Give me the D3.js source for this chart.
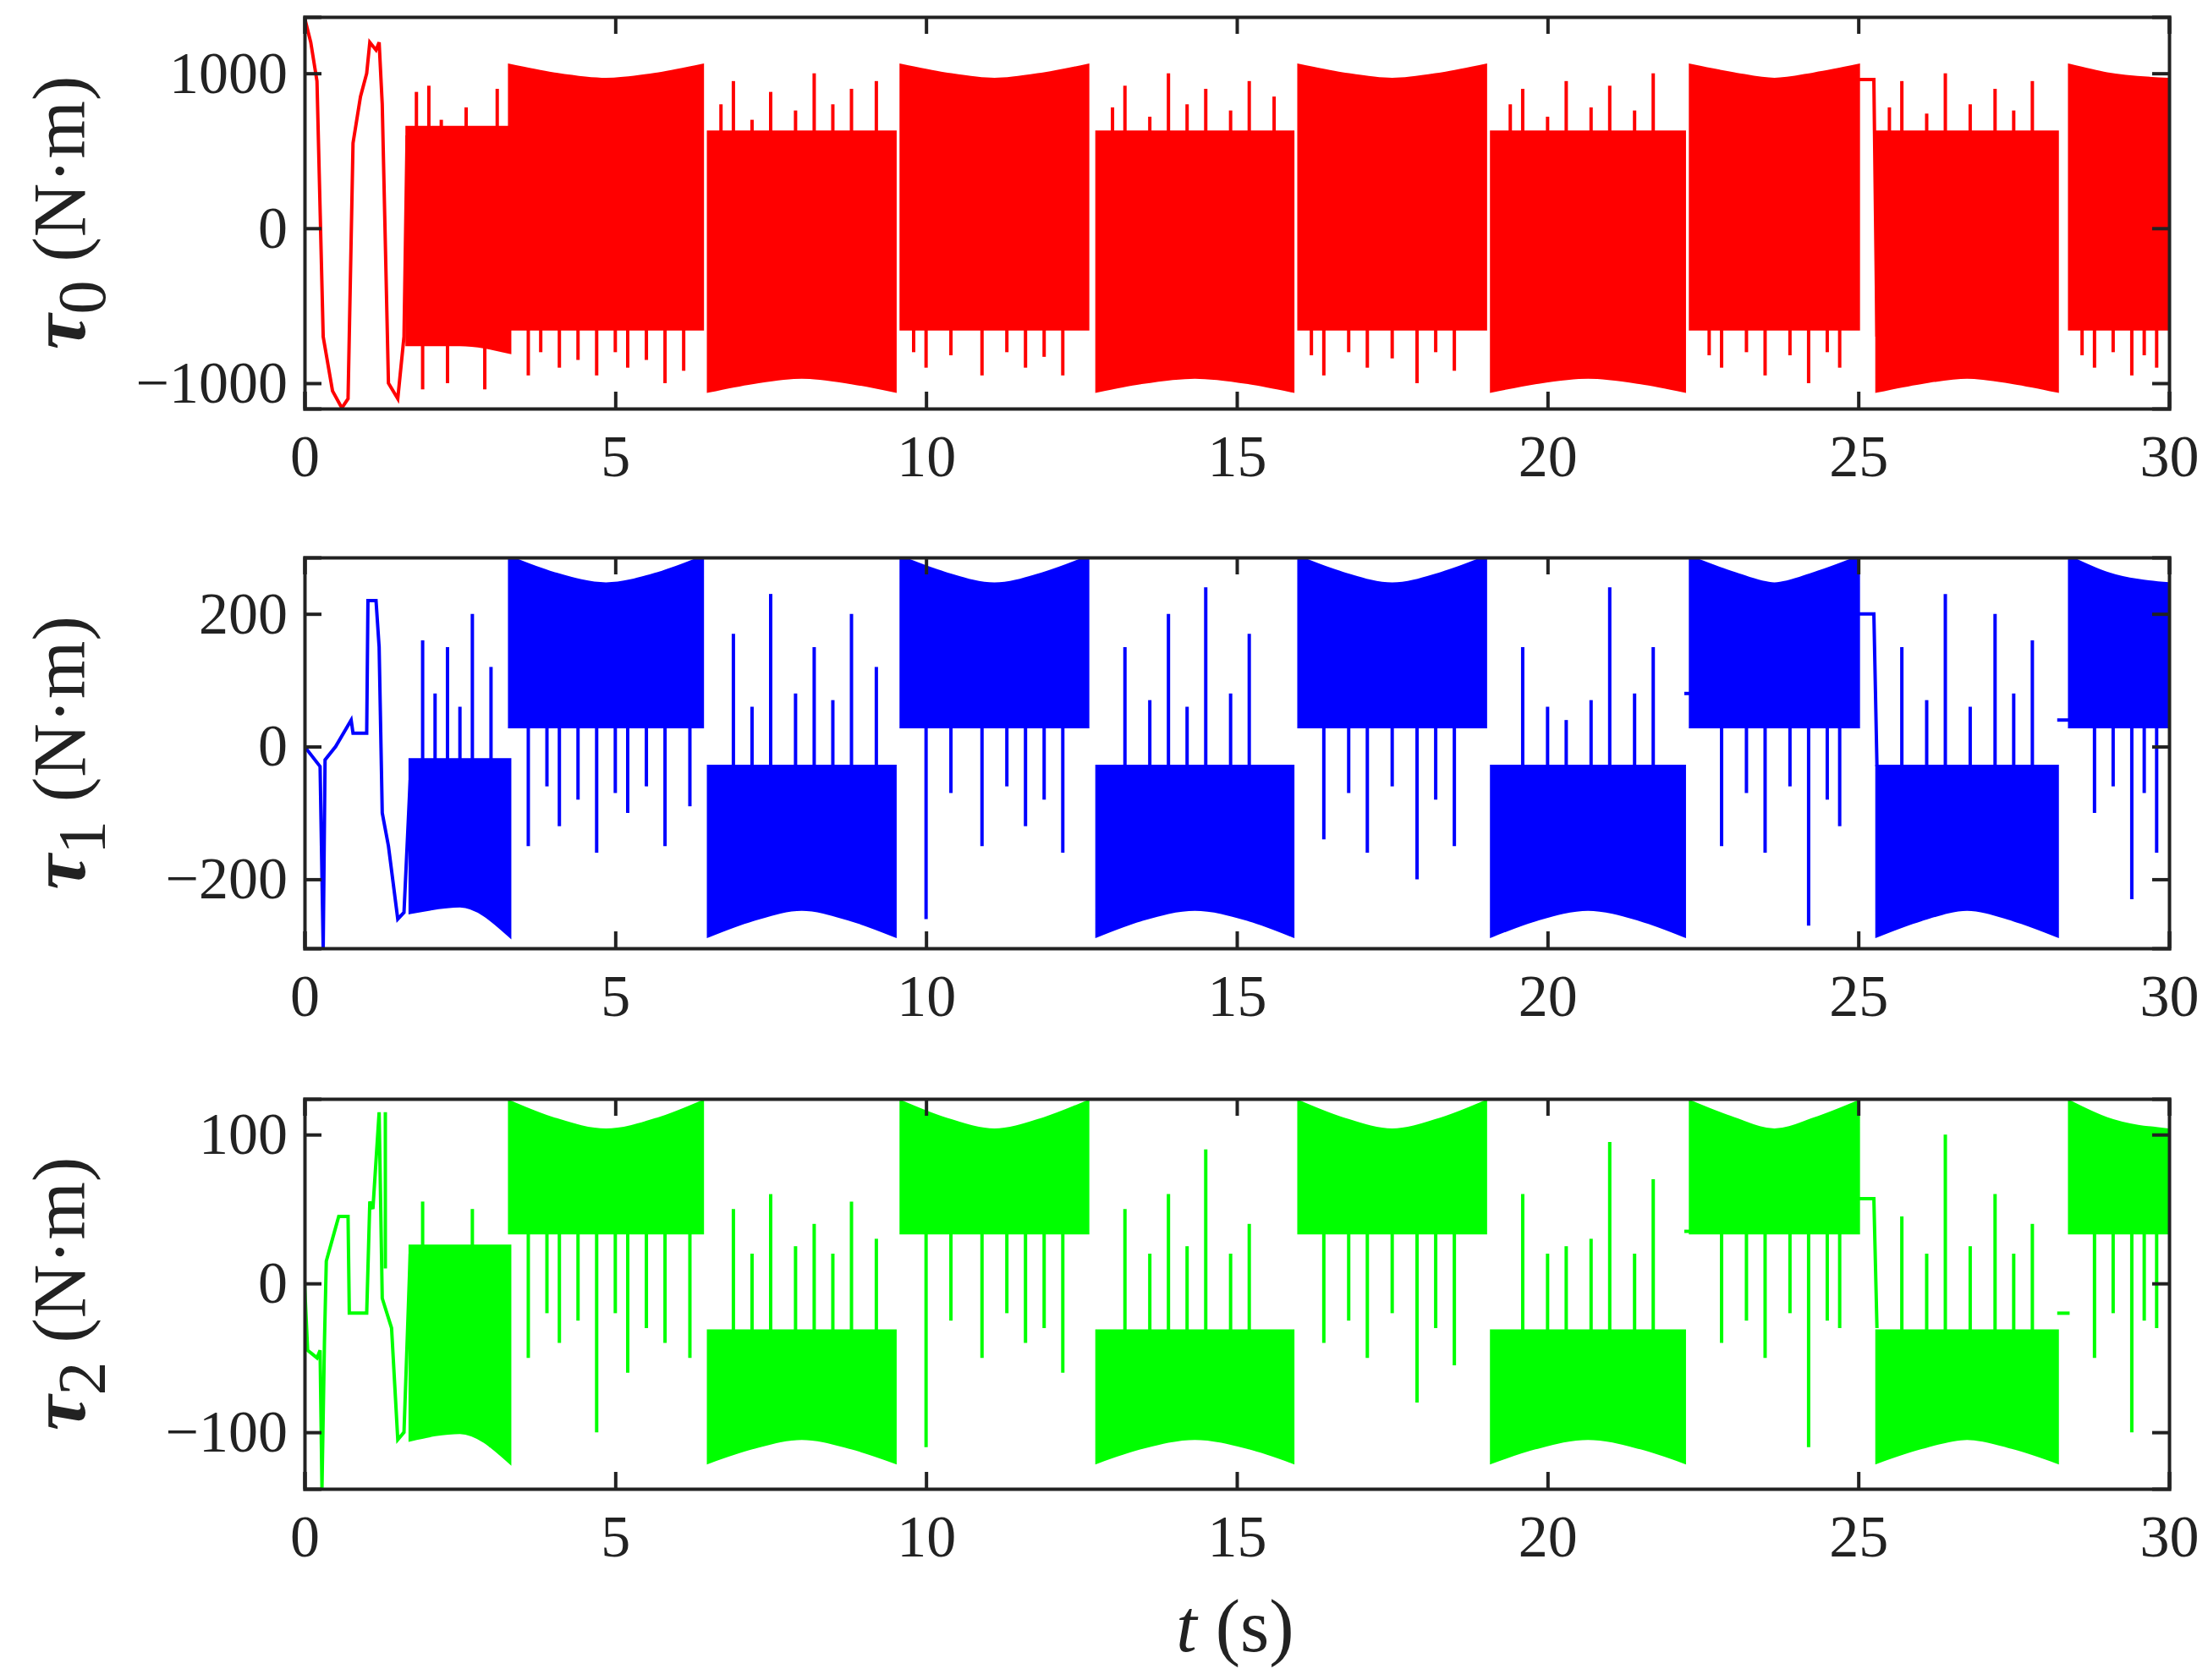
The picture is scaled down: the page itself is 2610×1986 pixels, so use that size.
<!DOCTYPE html>
<html><head><meta charset="utf-8">
<script src="https://cdn.jsdelivr.net/npm/d3@7"></script>
<style>body{margin:0;background:#fff}text{font-family:"Liberation Serif","DejaVu Serif",serif}</style>
</head><body><svg id="c" width="2610" height="1986"></svg>
<script>
// ---- data ----
const xTicks = [0,5,10,15,20,25,30];
const yTicks0 = [-1000,0,1000], yTicks1 = [-200,0,200], yTicks2 = [-100,0,100];
const upStarts = [3.3, 9.6, 16.0, 22.3, 28.4];
const upEnds   = [6.4, 12.6, 19.0, 25.0, 30.0];
const loStarts = [6.5, 12.75, 19.1, 25.3];
const loEnds   = [9.5, 15.9, 22.2, 28.2];
// transient lines [t, value]
const line0 = [[0,1360],[0.1,1200],[0.2,950],[0.3,-700],[0.45,-1050],[0.6,-1160],[0.7,-1100],[0.78,550],[0.9,850],[1.0,1000],[1.05,1200],[1.15,1150],[1.2,1200],[1.25,800],[1.35,-1000],[1.5,-1100],[1.6,-700],[1.65,600]];
const line1 = [[0,0],[0.25,-30],[0.3,-304],[0.33,-20],[0.5,0],[0.75,40],[0.78,20],[1.0,20],[1.02,220],[1.15,220],[1.2,150],[1.25,-100],[1.35,-150],[1.5,-260],[1.6,-250],[1.7,-50]];
const line2 = [[0,0],[0.05,-45],[0.2,-50],[0.25,-45],[0.28,-138],[0.32,-40],[0.35,15],[0.45,30],[0.55,45],[0.7,45],[0.72,-20],[1.0,-20],[1.05,55],[1.1,50],[1.2,115],[1.25,-10],[1.4,-30],[1.5,-105],[1.6,-100],[1.7,20]];
const flat0 = [[24.95,960],[25.25,960],[25.3,-700]];
const flat1 = [[22.2,80],[22.3,80]], flat1b = [[24.95,200],[25.25,200],[25.3,-30]], flat1c=[[28.2,40],[28.4,40]];
const flat2 = [[22.2,35],[22.3,35]], flat2b = [[24.95,57],[25.25,57],[25.3,-30]], flat2c=[[28.2,-20],[28.4,-20]];
const env0 = {upHi:[1050,960], upLo:-650, loLo:[-1050,-960], loHi:620, early:[[1.65,-750,650],[2.5,-750,650],[3.3,-800,650]]};
const env1 = {upHi:[285,245], upLo:30, loLo:[-285,-245], loHi:-30, early:[[1.7,-250,-20],[2.5,-240,-20],[3.3,-285,-20]]};
const env2 = {upHi:[122,103], upLo:34, loLo:[-120,-104], loHi:-32, early:[[1.7,-105,25],[2.5,-100,25],[3.3,-120,25]]};
// spikes [t, from, to]
const spikes0 = [[1.9,-750,-1040],[2.3,-750,-1000],[2.9,-750,-1040],[3.1,650,900],[2.0,650,920],[2.6,650,780],[2.2,650,700],[1.8,650,880],
 [3.6,-650,-950],[3.8,-650,-800],[4.1,-650,-900],[4.4,-650,-850],[4.7,-650,-950],[5.0,-650,-800],[5.2,-650,-900],[5.5,-650,-850],[5.8,-650,-1000],[6.1,-650,-920],
 [6.7,620,800],[6.9,620,950],[7.2,620,700],[7.5,620,880],[7.9,620,760],[8.2,620,1000],[8.5,620,800],[8.8,620,900],[9.2,620,950],
 [9.8,-650,-800],[10.0,-650,-900],[10.4,-650,-820],[10.9,-650,-950],[11.3,-650,-800],[11.6,-650,-900],[11.9,-650,-830],[12.2,-650,-950],
 [13.0,620,780],[13.2,620,920],[13.6,620,720],[13.9,620,1000],[14.2,620,800],[14.5,620,900],[14.9,620,760],[15.2,620,950],[15.6,620,850],
 [16.2,-650,-820],[16.4,-650,-950],[16.8,-650,-800],[17.1,-650,-900],[17.5,-650,-840],[17.9,-650,-1000],[18.2,-650,-800],[18.5,-650,-920],
 [19.4,620,800],[19.6,620,900],[20.0,620,720],[20.3,620,950],[20.7,620,780],[21.0,620,920],[21.4,620,760],[21.7,620,1000],
 [22.6,-650,-820],[22.8,-650,-900],[23.2,-650,-800],[23.5,-650,-950],[23.9,-650,-820],[24.2,-650,-1000],[24.5,-650,-800],[24.7,-650,-900],
 [25.5,620,780],[25.7,620,950],[26.1,620,740],[26.4,620,1000],[26.8,620,800],[27.2,620,900],[27.5,620,760],[27.8,620,950],
 [28.6,-650,-820],[28.8,-650,-900],[29.1,-650,-800],[29.4,-650,-950],[29.6,-650,-820],[29.8,-650,-900]];
const spikes1 = [[1.9,-20,160],[2.1,-20,80],[2.3,-20,150],[2.5,-20,60],[2.7,-20,200],[3.0,-20,120],
 [3.6,30,-150],[3.9,30,-60],[4.1,30,-120],[4.4,30,-80],[4.7,30,-160],[5.0,30,-70],[5.2,30,-100],[5.5,30,-60],[5.8,30,-150],[6.2,30,-90],
 [6.9,-30,170],[7.2,-30,60],[7.5,-30,230],[7.9,-30,80],[8.2,-30,150],[8.5,-30,70],[8.8,-30,200],[9.2,-30,120],
 [10.0,30,-260],[10.4,30,-70],[10.9,30,-150],[11.3,30,-60],[11.6,30,-120],[11.9,30,-80],[12.2,30,-160],
 [13.2,-30,150],[13.6,-30,70],[13.9,-30,200],[14.2,-30,60],[14.5,-30,240],[14.9,-30,80],[15.2,-30,170],
 [16.4,30,-140],[16.8,30,-70],[17.1,30,-160],[17.5,30,-60],[17.9,30,-200],[18.2,30,-80],[18.5,30,-150],
 [19.6,-30,150],[20.0,-30,60],[20.3,-30,40],[20.7,-30,70],[21.0,-30,240],[21.4,-30,80],[21.7,-30,150],
 [22.8,30,-150],[23.2,30,-70],[23.5,30,-160],[23.9,30,-60],[24.2,30,-270],[24.5,30,-80],[24.7,30,-120],
 [25.7,-30,150],[26.1,-30,70],[26.4,-30,230],[26.8,-30,60],[27.2,-30,200],[27.5,-30,80],[27.8,-30,160],
 [28.8,30,-100],[29.1,30,-60],[29.4,30,-230],[29.6,30,-70],[29.8,30,-160]];
const spikes2 = [[1.9,25,55],[2.3,-30,-100],[2.7,25,50],[3.0,-30,-110],[1.3,10,115],
 [3.6,34,-50],[3.9,34,-20],[4.1,34,-40],[4.4,34,-25],[4.7,34,-100],[5.0,34,-20],[5.2,34,-60],[5.5,34,-30],[5.8,34,-40],[6.2,34,-50],
 [6.9,-32,50],[7.2,-32,20],[7.5,-32,60],[7.9,-32,25],[8.2,-32,40],[8.5,-32,20],[8.8,-32,55],[9.2,-32,30],
 [10.0,34,-110],[10.4,34,-25],[10.9,34,-50],[11.3,34,-20],[11.6,34,-40],[11.9,34,-30],[12.2,34,-60],
 [13.2,-32,50],[13.6,-32,20],[13.9,-32,60],[14.2,-32,25],[14.5,-32,90],[14.9,-32,20],[15.2,-32,40],
 [16.4,34,-40],[16.8,34,-25],[17.1,34,-50],[17.5,34,-20],[17.9,34,-80],[18.2,34,-30],[18.5,34,-55],
 [19.6,-32,60],[20.0,-32,20],[20.3,-32,25],[20.7,-32,30],[21.0,-32,95],[21.4,-32,20],[21.7,-32,70],
 [22.8,34,-40],[23.2,34,-25],[23.5,34,-50],[23.9,34,-20],[24.2,34,-110],[24.5,34,-25],[24.7,34,-30],
 [25.7,-32,45],[26.1,-32,20],[26.4,-32,100],[26.8,-32,25],[27.2,-32,60],[27.5,-32,20],[27.8,-32,40],
 [28.8,34,-50],[29.1,34,-20],[29.4,34,-100],[29.6,34,-25],[29.8,34,-30]];

// ---- layout ----
const svg = d3.select("#c");
const L = 360, R = 2564;
const panels = [
 {top:20, bot:483, dom:[-1164,1364], ticks:yTicks0, col:"#ff0000", env:env0, line:line0, flats:[flat0], spikes:spikes0, sub:"0"},
 {top:659, bot:1121, dom:[-304,285], ticks:yTicks1, col:"#0000ff", env:env1, line:line1, flats:[flat1,flat1b,flat1c], spikes:spikes1, sub:"1"},
 {top:1299, bot:1760, dom:[-138,124], ticks:yTicks2, col:"#00ff00", env:env2, line:line2, flats:[flat2,flat2b,flat2c], spikes:spikes2, sub:"2"}
];
const x = d3.scaleLinear().domain([0,30]).range([L,R]);
const FS = 70, LFS = 88;
panels.forEach((p,i)=>{
  const y = d3.scaleLinear().domain(p.dom).range([p.bot,p.top]);
  const g = svg.append("g");
  const cid = "clip"+i;
  svg.append("clipPath").attr("id",cid).append("rect").attr("x",L).attr("y",p.top).attr("width",R-L).attr("height",p.bot-p.top);
  const pg = g.append("g").attr("clip-path",`url(#${cid})`);
  const area = d3.area().x(d=>x(d[0])).y0(d=>y(d[1])).y1(d=>y(d[2])).curve(d3.curveMonotoneX);
  const bands = [p.env.early];
  upStarts.forEach((s,k)=>{const e=upEnds[k], m=(s+e)/2, full = e-s>2;
    const hi = p.env.upHi;
    bands.push(full? [[s,p.env.upLo,hi[0]],[s+0.7,p.env.upLo,hi[0]-(hi[0]-hi[1])*0.6],[m,p.env.upLo,hi[1]],[e-0.7,p.env.upLo,hi[0]-(hi[0]-hi[1])*0.6],[e,p.env.upLo,hi[0]]]
                    : [[s,p.env.upLo,hi[0]],[s+0.6,p.env.upLo,hi[0]-(hi[0]-hi[1])*0.6],[e,p.env.upLo,hi[1]]]);
  });
  loStarts.forEach((s,k)=>{const e=loEnds[k], m=(s+e)/2, lo=p.env.loLo;
    bands.push([[s,lo[0],p.env.loHi],[s+0.7,lo[0]-(lo[0]-lo[1])*0.6,p.env.loHi],[m,lo[1],p.env.loHi],[e-0.7,lo[0]-(lo[0]-lo[1])*0.6,p.env.loHi],[e,lo[0],p.env.loHi]]);
  });
  bands.forEach(b=>pg.append("path").attr("d",area(b)).attr("fill",p.col).attr("stroke",p.col).attr("stroke-width",4));
  const ln = d3.line().x(d=>x(d[0])).y(d=>y(d[1]));
  [p.line,...p.flats].forEach(l=>pg.append("path").attr("d",ln(l)).attr("fill","none").attr("stroke",p.col).attr("stroke-width",4));
  pg.selectAll("line.s").data(p.spikes).join("line").attr("x1",d=>x(d[0])).attr("x2",d=>x(d[0]))
    .attr("y1",d=>y(d[1])).attr("y2",d=>y(d[2])).attr("stroke",p.col).attr("stroke-width",4);
  const ax = [
    g.append("g").attr("transform",`translate(0,${p.bot})`).call(d3.axisBottom(x).tickValues(xTicks).tickSize(-20).tickPadding(30)),
    g.append("g").attr("transform",`translate(0,${p.top})`).call(d3.axisTop(x).tickValues(xTicks).tickSize(-20).tickFormat("")),
    g.append("g").attr("transform",`translate(${L},0)`).call(d3.axisLeft(y).tickValues(p.ticks).tickSize(-20).tickPadding(20).tickFormat(d=>d<0?"\u2212"+(-d):d)),
    g.append("g").attr("transform",`translate(${R},0)`).call(d3.axisRight(y).tickValues(p.ticks).tickSize(-20).tickFormat(""))
  ];
  ax.forEach(a=>{a.selectAll("path").attr("stroke","#222").attr("stroke-width",4);
    a.selectAll("line").attr("stroke","#222").attr("stroke-width",4);
    a.selectAll("text").attr("font-size",FS).attr("fill","#222").attr("font-family","Liberation Serif");});
  const cy = (p.top+p.bot)/2;
  const t = svg.append("text").attr("transform",`translate(100,${cy}) rotate(-90)`).attr("text-anchor","middle").attr("font-size",LFS).attr("fill","#222");
  t.append("tspan").attr("font-weight","bold").attr("font-style","italic").attr("font-size",LFS+6).text("\u03c4");
  t.append("tspan").attr("dy",24).attr("font-size",LFS-8).text(p.sub);
  t.append("tspan").attr("dy",-24).text(i===1?"  (N\u00b7m)":" (N\u00b7m)");
});
const xl = svg.append("text").attr("x",1460).attr("y",1952).attr("text-anchor","middle").attr("font-size",LFS).attr("fill","#222");
xl.append("tspan").attr("font-style","italic").text("t");
xl.append("tspan").text(" (s)");
</script></body></html>
